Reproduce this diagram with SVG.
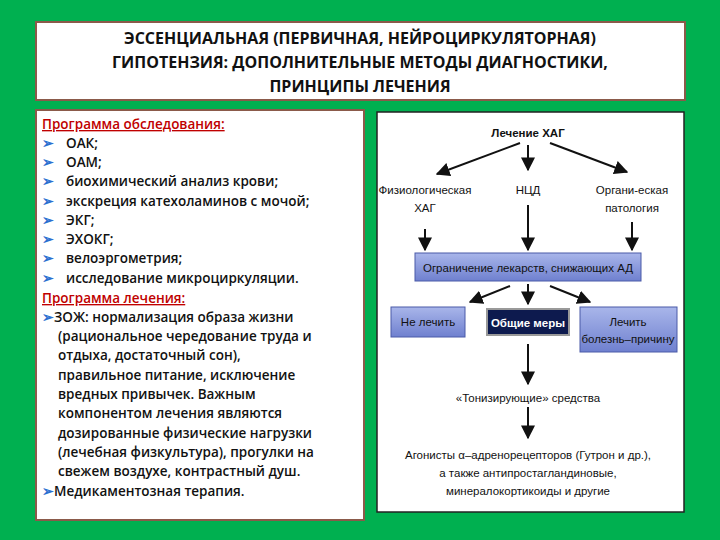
<svg xmlns="http://www.w3.org/2000/svg" width="720" height="540" viewBox="0 0 720 540">
<defs>
<marker id="ah" viewBox="0 0 10 10" refX="9" refY="5" markerWidth="7" markerHeight="7" orient="auto"><path d="M0,0 L10,5 L0,10 z" fill="#111"/></marker>
<linearGradient id="bl" x1="0" y1="0" x2="0" y2="1"><stop offset="0" stop-color="#a9b6ea"/><stop offset="1" stop-color="#6f80cf"/></linearGradient>
<style>
.h{font-family:"Open Sans","Liberation Sans",sans-serif;font-weight:bold;font-size:16px;text-anchor:middle;fill:#111}
.l{font-family:"Open Sans","Liberation Sans",sans-serif;font-size:13.5px;font-weight:600;fill:#111}
.r{fill:#c00000;text-decoration:underline}
.b{fill:#2b6fd0}
.d{font-family:"Liberation Sans",Arial,sans-serif;font-size:11.5px;fill:#111;text-anchor:middle}
.c line{stroke:#111;stroke-width:2;marker-end:url(#ah)}
</style>
</defs>
<rect width="720" height="540" fill="#00b050"/>
<g id="title">
<rect x="36" y="22" width="649" height="78" fill="#fff" stroke="#8b5a4a" stroke-width="2"/>
<text class="h" x="360" y="44">ЭССЕНЦИАЛЬНАЯ (ПЕРВИЧНАЯ, НЕЙРОЦИРКУЛЯТОРНАЯ)</text>
<text class="h" x="360" y="68">ГИПОТЕНЗИЯ: ДОПОЛНИТЕЛЬНЫЕ МЕТОДЫ ДИАГНОСТИКИ,</text>
<text class="h" x="360" y="92">ПРИНЦИПЫ ЛЕЧЕНИЯ</text>
</g>
<g id="left">
<rect x="36" y="110" width="328" height="410" fill="#fff" stroke="#8b5a4a" stroke-width="2"/>
<g class="l">
<text x="42" y="129" class="l r">Программа обследования:</text>
<text x="42" y="148"><tspan class="b">➢</tspan><tspan x="66">ОАК;</tspan></text>
<text x="42" y="167"><tspan class="b">➢</tspan><tspan x="66">ОАМ;</tspan></text>
<text x="42" y="186"><tspan class="b">➢</tspan><tspan x="66">биохимический анализ крови;</tspan></text>
<text x="42" y="206"><tspan class="b">➢</tspan><tspan x="66">экскреция катехоламинов с мочой;</tspan></text>
<text x="42" y="225"><tspan class="b">➢</tspan><tspan x="66">ЭКГ;</tspan></text>
<text x="42" y="244"><tspan class="b">➢</tspan><tspan x="66">ЭХОКГ;</tspan></text>
<text x="42" y="263"><tspan class="b">➢</tspan><tspan x="66">велоэргометрия;</tspan></text>
<text x="42" y="283"><tspan class="b">➢</tspan><tspan x="66">исследование микроциркуляции.</tspan></text>
<text x="42" y="303" class="l r">Программа лечения:</text>
<text x="42" y="322"><tspan class="b">➢</tspan><tspan>ЗОЖ: нормализация образа жизни</tspan></text>
<text x="58" y="341">(рациональное чередование труда и</text>
<text x="58" y="360">отдыха, достаточный сон),</text>
<text x="58" y="380">правильное питание, исключение</text>
<text x="58" y="399">вредных привычек. Важным</text>
<text x="58" y="418">компонентом лечения являются</text>
<text x="58" y="438">дозированные физические нагрузки</text>
<text x="58" y="457">(лечебная физкультура), прогулки на</text>
<text x="58" y="476">свежем воздухе, контрастный душ.</text>
<text x="42" y="496"><tspan class="b">➢</tspan><tspan>Медикаментозная терапия.</tspan></text>
</g>
</g>
<rect x="377" y="112" width="307" height="400" fill="#fff" stroke="#222" stroke-width="1.5"/>
<g class="c" id="connectors">
<line x1="520" y1="143" x2="437" y2="174"/>
<line x1="528" y1="145" x2="528" y2="170"/>
<line x1="550" y1="143" x2="627" y2="172"/>
<line x1="425" y1="229" x2="425" y2="250"/>
<line x1="528" y1="205" x2="528" y2="250"/>
<line x1="632" y1="222" x2="632" y2="250"/>
<line x1="510" y1="286" x2="470" y2="302"/>
<line x1="528" y1="284" x2="528" y2="304"/>
<line x1="550" y1="286" x2="590" y2="302"/>
<line x1="528" y1="344" x2="528" y2="384"/>
<line x1="528" y1="407" x2="528" y2="438"/>
</g>
<g id="n-root"><text class="d" x="528" y="137" font-weight="bold" font-size="12.5">Лечение ХАГ</text></g>
<g id="n-phys"><text class="d" x="425" y="194">Физиологическая</text><text class="d" x="425" y="212">ХАГ</text></g>
<g id="n-ncd"><text class="d" x="528" y="194">НЦД</text></g>
<g id="n-org"><text class="d" x="632" y="194">Органи-еская</text><text class="d" x="632" y="212">патология</text></g>
<g id="n-limit"><rect x="415" y="253" width="226" height="28" fill="url(#bl)" stroke="#4a5aa8"/><text class="d" x="528" y="272">Ограничение лекарств, снижающих АД</text></g>
<g id="n-no"><rect x="391" y="307" width="74" height="30" fill="url(#bl)" stroke="#4a5aa8"/><text class="d" x="428" y="326">Не лечить</text></g>
<g id="n-gen"><rect x="487" y="309" width="82" height="26" fill="#0d1a4e" stroke="#999" stroke-width="2"/><text class="d" x="528" y="327" style="fill:#fff;font-weight:bold">Общие меры</text></g>
<g id="n-treat"><rect x="580" y="307" width="97" height="45" fill="url(#bl)" stroke="#4a5aa8"/><text class="d" x="628" y="326">Лечить</text><text class="d" x="628" y="343">болезнь–причину</text></g>
<g id="n-ton"><text class="d" x="528" y="402">«Тонизирующие» средства</text></g>
<g id="n-ag"><text class="d" x="528" y="459">Агонисты α–адренорецепторов (Гутрон и др.),</text><text class="d" x="528" y="477">а также антипростагландиновые,</text><text class="d" x="528" y="495">минералокортикоиды и другие</text></g>
</svg>
